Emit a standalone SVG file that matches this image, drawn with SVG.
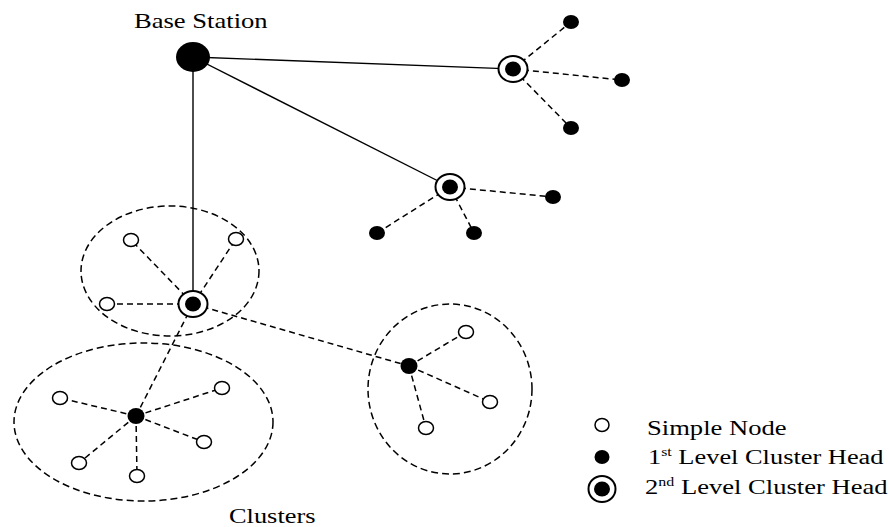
<svg xmlns="http://www.w3.org/2000/svg" width="890" height="527" viewBox="0 0 890 527">
<style>
.solid{stroke:#000;stroke-width:1.4;fill:none}
.dash{stroke:#000;stroke-width:1.5;stroke-dasharray:6 4;fill:none}
.cl{stroke:#000;stroke-width:1.5;stroke-dasharray:7 4;fill:none}
.sn{fill:#fff;stroke:#000;stroke-width:1.5}
.bk{fill:#000}
.ring{fill:#fff;stroke:#000;stroke-width:2}
text{font-family:"Liberation Serif","Times New Roman",serif;fill:#000;font-size:20px}
.sup{font-size:12px}
</style>
<rect width="890" height="527" fill="#fff"/>
<g id="clusters">
<ellipse class="cl" cx="170" cy="271" rx="89" ry="65"/>
<ellipse class="cl" cx="143.5" cy="422" rx="129.5" ry="79"/>
<ellipse class="cl" cx="450" cy="389" rx="82" ry="85"/>
</g>
<g id="connectors">
<line class="solid" x1="193" y1="57" x2="513" y2="69"/>
<line class="solid" x1="193" y1="57" x2="450" y2="187"/>
<line class="solid" x1="193" y1="57" x2="193" y2="304" stroke="#555"/>
<line class="dash" x1="513" y1="69" x2="571" y2="22"/>
<line class="dash" x1="513" y1="69" x2="622" y2="80"/>
<line class="dash" x1="513" y1="69" x2="571" y2="128"/>
<line class="dash" x1="450" y1="187" x2="553" y2="197"/>
<line class="dash" x1="450" y1="187" x2="377" y2="233"/>
<line class="dash" x1="450" y1="187" x2="474" y2="233"/>
<line class="dash" x1="193" y1="304" x2="131" y2="240"/>
<line class="dash" x1="193" y1="304" x2="236" y2="239"/>
<line class="dash" x1="193" y1="304" x2="107" y2="304"/>
<line class="dash" x1="193" y1="304" x2="136" y2="416"/>
<line class="dash" x1="193" y1="304" x2="409" y2="366"/>
<line class="dash" x1="136" y1="416" x2="60" y2="398"/>
<line class="dash" x1="136" y1="416" x2="222" y2="388"/>
<line class="dash" x1="136" y1="416" x2="204" y2="442"/>
<line class="dash" x1="136" y1="416" x2="79" y2="463"/>
<line class="dash" x1="136" y1="416" x2="137" y2="476"/>
<line class="dash" x1="409" y1="366" x2="466" y2="332"/>
<line class="dash" x1="409" y1="366" x2="490" y2="402"/>
<line class="dash" x1="409" y1="366" x2="426" y2="428"/>
</g>
<g id="base-station">
<ellipse class="bk" cx="193" cy="57" rx="17" ry="15"/>
<text transform="translate(134,28) scale(1.33,1)">Base Station</text>
</g>
<g id="ch2-a"><ellipse class="ring" cx="513" cy="69" rx="14.5" ry="13"/><ellipse class="bk" cx="513" cy="69" rx="8" ry="7.5"/></g>
<g id="ch2-b"><ellipse class="ring" cx="450" cy="187" rx="14.5" ry="13"/><ellipse class="bk" cx="450" cy="187" rx="8" ry="7.5"/></g>
<g id="ch2-c"><ellipse class="ring" cx="193" cy="304" rx="14.5" ry="13"/><ellipse class="bk" cx="193" cy="304" rx="8" ry="7.5"/></g>
<g id="a1"><ellipse class="bk" cx="571" cy="22" rx="8" ry="7"/></g>
<g id="a2"><ellipse class="bk" cx="622" cy="80" rx="8" ry="7"/></g>
<g id="a3"><ellipse class="bk" cx="571" cy="128" rx="8" ry="7"/></g>
<g id="b1"><ellipse class="bk" cx="553" cy="197" rx="8" ry="7"/></g>
<g id="b2"><ellipse class="bk" cx="377" cy="233" rx="8" ry="7"/></g>
<g id="b3"><ellipse class="bk" cx="474" cy="233" rx="8" ry="7"/></g>
<g id="c1"><ellipse class="sn" cx="131" cy="240" rx="7.5" ry="6.5"/></g>
<g id="c2"><ellipse class="sn" cx="236" cy="239" rx="7.5" ry="6.5"/></g>
<g id="c3"><ellipse class="sn" cx="107" cy="304" rx="7.5" ry="6.5"/></g>
<g id="ch1-d"><ellipse class="bk" cx="136" cy="416" rx="8.5" ry="8"/></g>
<g id="d1"><ellipse class="sn" cx="60" cy="398" rx="7.5" ry="6.5"/></g>
<g id="d2"><ellipse class="sn" cx="222" cy="388" rx="7.5" ry="6.5"/></g>
<g id="d3"><ellipse class="sn" cx="204" cy="442" rx="7.5" ry="6.5"/></g>
<g id="d4"><ellipse class="sn" cx="79" cy="463" rx="7.5" ry="6.5"/></g>
<g id="d5"><ellipse class="sn" cx="137" cy="476" rx="7.5" ry="6.5"/></g>
<g id="ch1-e"><ellipse class="bk" cx="409" cy="366" rx="8.5" ry="8"/></g>
<g id="e1"><ellipse class="sn" cx="466" cy="332" rx="7.5" ry="6.5"/></g>
<g id="e2"><ellipse class="sn" cx="490" cy="402" rx="7.5" ry="6.5"/></g>
<g id="e3"><ellipse class="sn" cx="426" cy="428" rx="7.5" ry="6.5"/></g>
<g id="clusters-label"><text transform="translate(229,523) scale(1.32,1)">Clusters</text></g>
<g id="legend">
<ellipse class="sn" cx="602" cy="425" rx="7" ry="6.5"/>
<ellipse class="bk" cx="602" cy="457" rx="7.5" ry="7"/>
<ellipse class="ring" cx="602" cy="489" rx="13.5" ry="13"/><ellipse class="bk" cx="602" cy="489" rx="8" ry="7.5"/>
<text transform="translate(647,435) scale(1.33,1)">Simple Node</text>
<text transform="translate(648,464) scale(1.32,1)">1<tspan class="sup" dy="-8">st</tspan><tspan dy="8"> Level Cluster Head</tspan></text>
<text transform="translate(645,494) scale(1.33,1)">2<tspan class="sup" dy="-8">nd</tspan><tspan dy="8"> Level Cluster Head</tspan></text>
</g>
</svg>
